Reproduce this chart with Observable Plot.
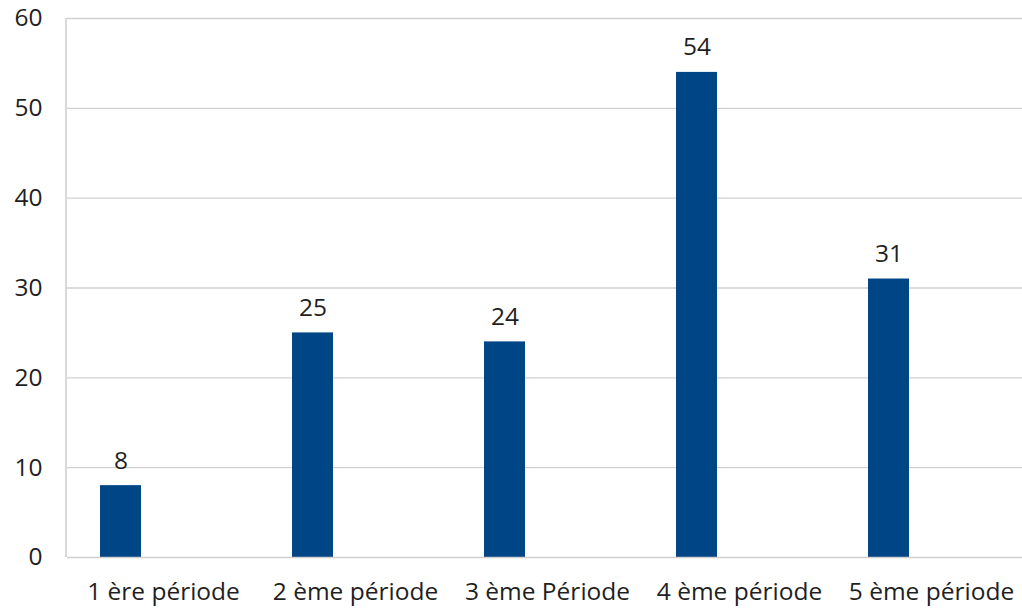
<!DOCTYPE html>
<html>
<head>
<meta charset="utf-8">
<script src="https://cdn.jsdelivr.net/npm/d3@7"></script>
<script src="https://cdn.jsdelivr.net/npm/@observablehq/plot@0.6"></script>
<style>
  html, body { margin: 0; padding: 0; background: #fff; overflow: hidden; }
  #chart svg { display: block; }
</style>
</head>
<body>
<div id="chart"></div>
<script>
const categories = ["1 ère période", "2 ème période", "3 ème Période", "4 ème période", "5 ème période"];
const values = [8, 25, 24, 54, 31];
const series = ["Valeur", "Vide"];
const yTicks = [0, 10, 20, 30, 40, 50, 60];

const data = categories.map((c, i) => ({category: c, series: series[0], value: values[i]}));

const gridColor = "#d0d0d0";
const textColor = "#1f1f1f";
const font = "'Open Sans', 'Noto Sans', sans-serif";

const chart = Plot.plot({
  width: 1022,
  height: 610,
  marginLeft: 66,
  marginRight: 0,
  marginTop: 18,
  marginBottom: 53,
  style: {fontFamily: font, fontSize: "24.5px", color: textColor, background: "#fff", overflow: "visible"},
  fx: {domain: categories, range: [66, 1028], padding: 0, label: null},
  x: {domain: series, paddingInner: 0.506, paddingOuter: 0.385, axis: null},
  y: {domain: [0, 60], ticks: yTicks, label: null},
  marks: [
    Plot.ruleY(yTicks.filter(d => d > 0), {stroke: gridColor, strokeWidth: 1.3}),
    Plot.barY(data, {fx: "category", x: "series", y: "value", fill: "#004586"}),
    Plot.text(data, {fx: "category", x: "series", y: "value", text: d => String(d.value), lineAnchor: "bottom", dy: -17, fontSize: 24.5, fill: textColor}),
    Plot.ruleY([0], {stroke: gridColor, strokeWidth: 1.6}),
    Plot.axisFx({anchor: "bottom", tickSize: 0, tickPadding: 25, fontSize: 24.5, label: null}),
    Plot.axisY({ticks: yTicks, tickSize: 0, tickPadding: 25, fontSize: 24.5, label: null})
  ]
});

document.getElementById("chart").appendChild(chart);

// y-axis line at left of the plot area
d3.select(chart).append("line")
  .attr("x1", 66).attr("x2", 66)
  .attr("y1", 18).attr("y2", 557)
  .attr("stroke", gridColor).attr("stroke-width", 1.6);
</script>
</body>
</html>
